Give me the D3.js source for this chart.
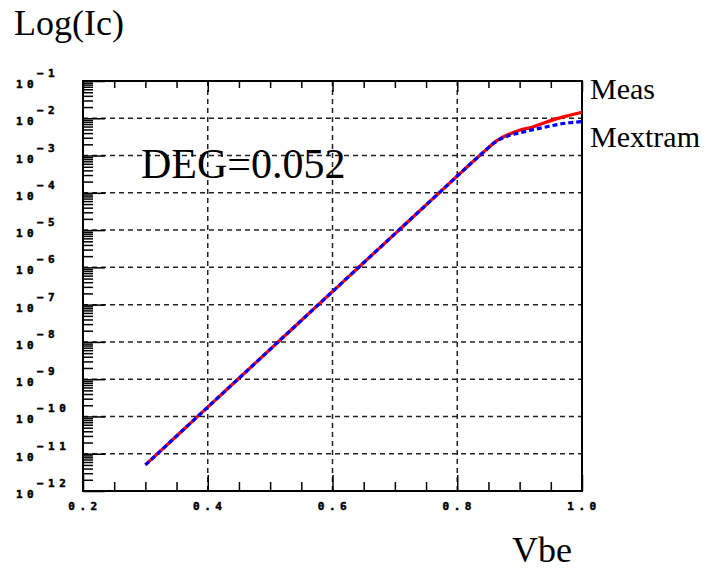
<!DOCTYPE html>
<html>
<head>
<meta charset="utf-8">
<script src="https://cdnjs.cloudflare.com/ajax/libs/d3/7.8.5/d3.min.js"></script>
<style>
  body { margin: 0; background: #fff; }
  .tick-lbl { font-family: "DejaVu Sans Mono", monospace; font-weight: bold; font-size: 11px; letter-spacing: 4.5px; fill: #000; stroke: #000; stroke-width: 0.5px; }
  .big { font-family: "Liberation Serif", "Times New Roman", serif; fill: #000; }
</style>
</head>
<body>
<script>
// Vbe sweep (V)
var vbe = [0.30,0.32,0.34,0.36,0.38,0.40,0.42,0.44,0.46,0.48,0.50,0.52,0.54,0.56,0.58,0.60,
           0.62,0.64,0.66,0.68,0.70,0.72,0.74,0.76,0.78,0.80,0.82,0.84,0.85,0.86,0.87,0.88,
           0.89,0.90,0.92,0.94,0.96,0.98,1.00];
// measured collector current (A)
var icMeas = [5.0e-12,1.02e-11,2.09e-11,4.27e-11,8.71e-11,1.78e-10,3.63e-10,7.41e-10,1.51e-9,3.09e-9,
              6.31e-9,1.29e-8,2.63e-8,5.37e-8,1.10e-7,2.24e-7,4.57e-7,9.33e-7,1.91e-6,3.89e-6,
              7.94e-6,1.62e-5,3.31e-5,6.76e-5,1.38e-4,2.82e-4,5.75e-4,1.15e-3,1.62e-3,2.29e-3,
              2.95e-3,3.55e-3,4.17e-3,4.79e-3,5.75e-3,7.59e-3,9.77e-3,1.20e-2,1.45e-2];
// Mextram model collector current (A)
var icMextram = [5.0e-12,1.02e-11,2.09e-11,4.27e-11,8.71e-11,1.78e-10,3.63e-10,7.41e-10,1.51e-9,3.09e-9,
                 6.31e-9,1.29e-8,2.63e-8,5.37e-8,1.10e-7,2.24e-7,4.57e-7,9.33e-7,1.91e-6,3.89e-6,
                 7.94e-6,1.62e-5,3.31e-5,6.76e-5,1.38e-4,2.82e-4,5.75e-4,1.15e-3,1.62e-3,2.24e-3,
                 2.82e-3,3.31e-3,3.72e-3,4.07e-3,4.90e-3,5.75e-3,6.76e-3,7.59e-3,8.13e-3];
var xTicks = [0.2,0.4,0.6,0.8,1.0];
var xTickLabels = ["0.2","0.4","0.6","0.8","1.0"];
var decadeExps = [-1,-2,-3,-4,-5,-6,-7,-8,-9,-10,-11,-12];

var W = 708, H = 571;
var L = 83, T = 81, R = 582, B = 491;

var svg = d3.select('body').append('svg').attr('width',W).attr('height',H);

var x = d3.scaleLinear().domain([0.2,1.0]).range([L,R]);
var y = d3.scaleLog().domain([1e-12,1e-1]).range([B,T]);

var decades = decadeExps.map(function(e){return Math.pow(10,e);});
var minors = [];
decadeExps.slice(1).forEach(function(e){
  for (var k=2;k<=9;k++) minors.push(k*Math.pow(10,e));
});
var xMinor = d3.range(0,17).map(function(i){return +(0.2+i*0.05).toFixed(2);})
  .filter(function(v){return xTicks.indexOf(v)<0;});

// grid
var grid = svg.append('g').attr('stroke','#222').attr('stroke-width',1.5).attr('stroke-dasharray','5,4');
grid.selectAll('.hg').data(decades.slice(1,-1)).enter().append('line')
  .attr('x1',L).attr('x2',R).attr('y1',function(d){return y(d);}).attr('y2',function(d){return y(d);});
grid.selectAll('.vg').data(xTicks.slice(1,-1)).enter().append('line')
  .attr('y1',T).attr('y2',B).attr('x1',function(d){return x(d);}).attr('x2',function(d){return x(d);});

// ticks via d3 axes
function styleAxis(g){
  g.select('.domain').remove();
  g.selectAll('.tick line').attr('stroke','#000').attr('stroke-width',1.5);
  g.selectAll('.tick text').remove();
}
svg.append('g').attr('transform','translate('+L+',0)')
  .call(d3.axisRight(y).tickValues(minors).tickSize(10).tickFormat('')).call(styleAxis);
svg.append('g').attr('transform','translate('+L+',0)')
  .call(d3.axisRight(y).tickValues(decades).tickSize(22).tickFormat('')).call(styleAxis);
svg.append('g').attr('transform','translate(0,'+B+')')
  .call(d3.axisTop(x).tickValues(xMinor).tickSize(9).tickFormat('')).call(styleAxis);
svg.append('g').attr('transform','translate(0,'+B+')')
  .call(d3.axisTop(x).tickValues(xTicks).tickSize(16).tickFormat('')).call(styleAxis);
svg.append('g').attr('transform','translate(0,'+T+')')
  .call(d3.axisBottom(x).tickValues(xMinor).tickSize(7).tickFormat('')).call(styleAxis);
svg.append('g').attr('transform','translate(0,'+T+')')
  .call(d3.axisBottom(x).tickValues(xTicks).tickSize(11).tickFormat('')).call(styleAxis);

// frame
svg.append('rect').attr('x',L).attr('y',T).attr('width',R-L).attr('height',B-T)
  .attr('fill','none').attr('stroke','#000').attr('stroke-width',2);

// y labels 10^n
var yl = svg.append('g').selectAll('text').data(decadeExps).enter().append('text')
  .attr('class','tick-lbl');
yl.append('tspan').attr('x',16).attr('y',function(d){return y(Math.pow(10,d))+7;}).text('10');
yl.append('tspan').attr('x',37).attr('y',function(d){return y(Math.pow(10,d))-4;})
  .text(function(d){return '\u2212'+Math.abs(d);});

// x labels
svg.append('g').selectAll('text').data(xTicks).enter().append('text')
  .attr('class','tick-lbl').attr('text-anchor','middle')
  .attr('x',function(d){return x(d)+2;}).attr('y',510)
  .text(function(d,i){return xTickLabels[i];});

// curves
var line = d3.line().curve(d3.curveMonotoneX)
  .x(function(d){return x(d[0]);}).y(function(d){return y(d[1]);});
svg.append('path').datum(d3.zip(vbe,icMeas)).attr('d',line)
  .attr('fill','none').attr('stroke','#f00').attr('stroke-width',3.2);
svg.append('path').datum(d3.zip(vbe,icMextram)).attr('d',line)
  .attr('fill','none').attr('stroke','#00f').attr('stroke-width',3.2).attr('stroke-dasharray','5,3');

// texts
svg.append('text').attr('class','big').attr('x',14).attr('y',35).attr('font-size',36).text('Log(Ic)');
svg.append('text').attr('class','big').attr('x',141).attr('y',178).attr('font-size',42).text('DEG=0.052');
svg.append('text').attr('class','big').attr('x',590).attr('y',99).attr('font-size',30).text('Meas');
svg.append('text').attr('class','big').attr('x',590).attr('y',147).attr('font-size',30).text('Mextram');
svg.append('text').attr('class','big').attr('x',512).attr('y',562).attr('font-size',36).text('Vbe');
</script>
</body>
</html>
